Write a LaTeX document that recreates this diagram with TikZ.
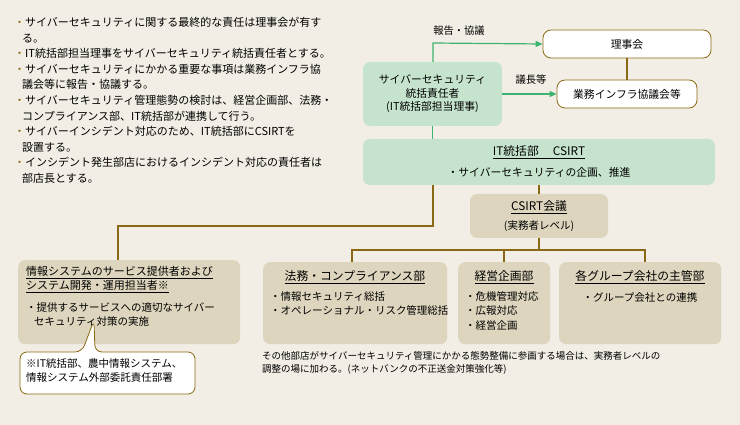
\documentclass[tikz,border=0pt]{standalone}
\usepackage{fontspec}
\setmainfont{Noto Sans CJK JP}
\usetikzlibrary{arrows.meta}
\definecolor{bg}{HTML}{F2EEE5}
\definecolor{grn}{HTML}{C6E4CD}
\definecolor{beige}{HTML}{DDD5BD}
\definecolor{brn}{HTML}{8B6914}
\definecolor{garr}{HTML}{3DB370}
\tikzset{
 gbox/.style={draw=none,fill=grn,rounded corners=7pt,align=center,font=\fontsize{10.8}{13.5}\selectfont},
 bbox/.style={draw=none,fill=beige,rounded corners=7pt},
 wbox/.style={draw=brn,fill=white,rounded corners=8pt,line width=0.8pt,font=\fontsize{10.8}{12}\selectfont},
 bline/.style={draw=brn,line width=1.2pt},
 gline/.style={draw=garr,line width=1.2pt},
 txt/.style={font=\fontsize{10.5}{14.5}\selectfont,align=left,anchor=north west,inner sep=0pt},
 ttl/.style={font=\fontsize{11.8}{14}\selectfont,inner sep=1pt},
}
\begin{document}
\begin{tikzpicture}[x=1pt,y=-1pt]
\fill[bg] (0,0) rectangle (740,425);
\useasboundingbox (0,0) rectangle (740,425);
\node[txt,font=\fontsize{11}{15.6}\selectfont] (notes) at (14,17) {%
\textcolor{brn}{・}サイバーセキュリティに関する最終的な責任は理事会が有す\\
\hspace*{8pt}る。\\
\textcolor{brn}{・}IT統括部担当理事をサイバーセキュリティ統括責任者とする。\\
\textcolor{brn}{・}サイバーセキュリティにかかる重要な事項は業務インフラ協\\
\hspace*{8pt}議会等に報告・協議する。\\
\textcolor{brn}{・}サイバーセキュリティ管理態勢の検討は、経営企画部、法務・\\
\hspace*{8pt}コンプライアンス部、IT統括部が連携して行う。\\
\textcolor{brn}{・}サイバーインシデント対応のため、IT統括部にCSIRTを\\
\hspace*{8pt}設置する。\\
\textcolor{brn}{・}インシデント発生部店におけるインシデント対応の責任者は\\
\hspace*{8pt}部店長とする。};
\node[gbox,minimum width=139pt,minimum height=64pt] (ciso) at (432.5,94) {サイバーセキュリティ\\統括責任者\\(IT統括部担当理事)};
\node[wbox,minimum width=168pt,minimum height=28pt] (board) at (627,44) {理事会};
\node[wbox,minimum width=140pt,minimum height=28pt] (infra) at (627,94) {業務インフラ協議会等};
\draw[bline] (board) -- (infra);
\coordinate (c1) at (433,43);
\draw[gline,-{Triangle[length=7pt,width=6pt]}] (ciso.north -| c1) -- (c1) -- (board.west);
\node[font=\fontsize{10.3}{11}\selectfont] (l1) at (459,31) {報告・協議};
\draw[gline,-{Triangle[length=7pt,width=6pt]}] (ciso.east) -- (infra.west);
\node[font=\fontsize{10.3}{11}\selectfont] (l2) at (531,80) {議長等};
\node[gbox,minimum width=352pt,minimum height=46pt] (it) at (539,162) {};
\node[ttl] (itt) at (539,152) {\underline{IT統括部\hspace{1.2em}CSIRT}};
\node[font=\fontsize{10.8}{12}\selectfont] (itd) at (539,172) {・サイバーセキュリティの企画、推進};
\draw[gline] (ciso.south) -- (ciso.south |- it.north);
\node[bbox,minimum width=138pt,minimum height=44pt] (cs) at (539,216) {};
\node[ttl] (cst) at (539,207) {\underline{CSIRT会議}};
\node[font=\fontsize{10.5}{12}\selectfont] (csd) at (539,226) {(実務者レベル)};
\draw[bline] (it.south -| cs) -- (cs.north);
\node[bbox,anchor=north west,minimum width=222pt,minimum height=84pt] (sys) at (18,260) {};
\node[bbox,anchor=north west,minimum width=184pt,minimum height=82pt] (legal) at (263,262) {};
\node[bbox,anchor=north west,minimum width=92pt,minimum height=82pt] (plan) at (458,262) {};
\node[bbox,anchor=north west,minimum width=162pt,minimum height=82pt] (grp) at (559,262) {};
\coordinate (h1) at (352,250);
\draw[bline] (cs.south) -- (cs.south |- h1);
\draw[bline] (legal.north -| h1) -- (h1) -- (645,250) -- (645,262);
\draw[bline] (504,250) -- (504,262);
\draw[bline] (433,185) -- (433,226) -- (118,226) -- (118,260);
\node[txt,font=\fontsize{11}{14}\selectfont] (syst) at (26,266) {\underline{情報システムのサービス提供者および}\\\underline{システム開発・運用担当者※}};
\node[txt] (sysd) at (26,302) {・提供するサービスへの適切なサイバー\\\hspace*{8pt}セキュリティ対策の実施};
\node[ttl] (legt) at (355,277) {\underline{法務・コンプライアンス部}};
\node[txt] (legd) at (270,291) {・情報セキュリティ総括\\・オペレーショナル・リスク管理総括};
\node[ttl] (plat) at (504,277) {\underline{経営企画部}};
\node[txt] (plad) at (465,291) {・危機管理対応\\・広報対応\\・経営企画};
\node[ttl] (grpt) at (640,277) {\underline{各グループ会社の主管部}};
\node[font=\fontsize{10.5}{12}\selectfont] (grpd) at (640,298) {・グループ会社との連携};
\draw[brn,fill=white,line width=0.8pt,rounded corners=7pt] (20,352) -- (82,352) -- (94,320) -- (95,352) -- (195,352) -- (195,394) -- (20,394) -- cycle;
\node[txt] (note2) at (26,358) {※IT統括部、農中情報システム、\\情報システム外部委託責任部署};
\node[txt,font=\fontsize{9.5}{13}\selectfont] (foot) at (262,351) {その他部店がサイバーセキュリティ管理にかかる態勢整備に参画する場合は、実務者レベルの\\調整の場に加わる。(ネットバンクの不正送金対策強化等)};
\end{tikzpicture}
\end{document}
